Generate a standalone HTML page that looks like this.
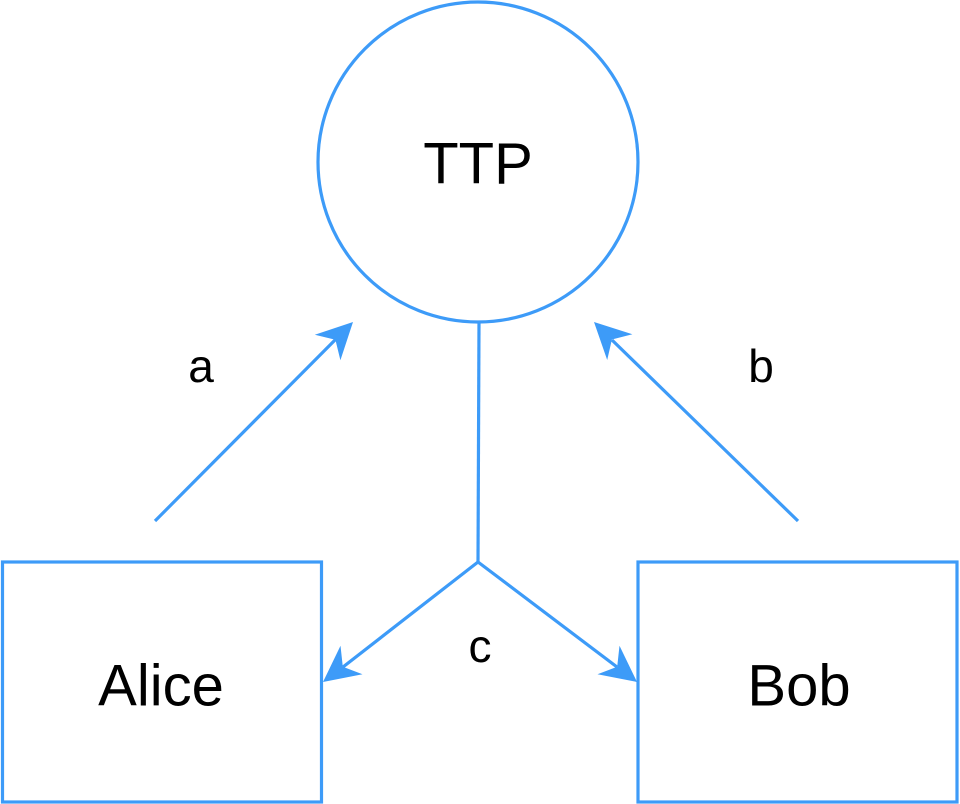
<!DOCTYPE html>
<html><head><meta charset="utf-8"><style>
html,body{margin:0;padding:0;background:#fff;}
svg{display:block;}
text{font-family:"Liberation Sans",Arial,sans-serif;fill:#000;text-anchor:middle;dominant-baseline:central;}
</style></head><body>
<svg width="960" height="804" viewBox="0 0 960 804" xmlns="http://www.w3.org/2000/svg">
<g stroke="#3d9bf8" stroke-width="3.2" fill="none">
<circle cx="478" cy="162" r="160"/>
<rect x="2.5" y="562" width="319" height="240"/>
<rect x="638" y="562" width="319" height="240"/>
<line x1="155" y1="521" x2="336" y2="339"/>
<line x1="798" y1="521" x2="612" y2="340"/>
<polyline points="479,323 478,562"/>
<line x1="478" y1="562" x2="343" y2="667"/>
<line x1="478" y1="562" x2="617" y2="667"/>
</g>
<g fill="#3d9bf8">
<polygon points="353,322 340.4,360.2 335.4,339.7 314.8,334.8"/>
<polygon points="594,322 632.4,334.2 611.9,339.5 607.2,360"/>
<polygon points="323,682 362.5,674.2 342.8,666.7 340.5,645.8"/>
<polygon points="637,682 597.5,674.2 617.2,666.7 619.5,645.8"/>
</g>
<text x="478" y="164" font-size="58">TTP</text>
<text x="161" y="686" font-size="58">Alice</text>
<text x="799" y="686" font-size="58">Bob</text>
<text x="201" y="366" font-size="46">a</text>
<text x="761" y="366" font-size="46">b</text>
<text x="480" y="646" font-size="46">c</text>
</svg>
</body></html>
